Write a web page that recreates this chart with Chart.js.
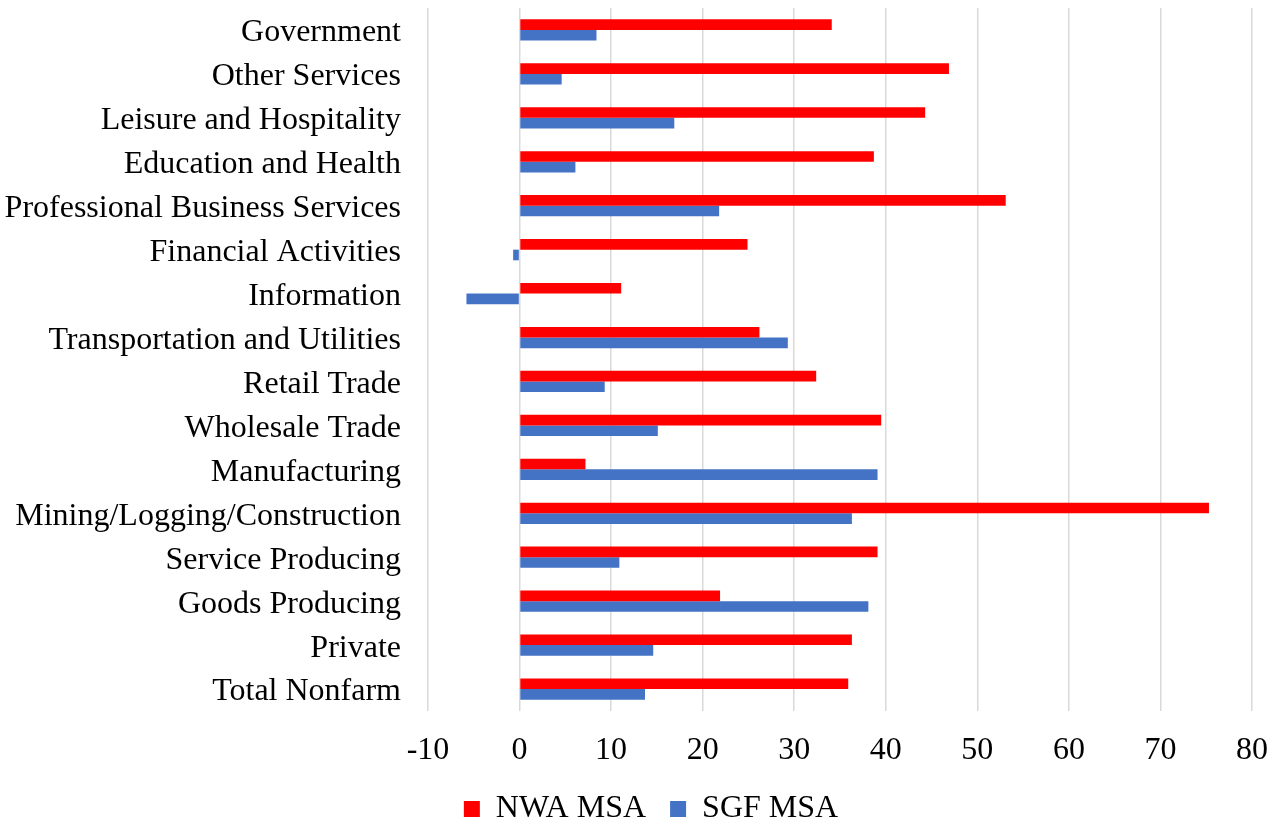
<!DOCTYPE html>
<html>
<head>
<meta charset="utf-8">
<title>Employment growth by sector</title>
<script src="https://cdn.jsdelivr.net/npm/chart.js@4/dist/chart.umd.min.js"></script>
<style>
  html, body { margin: 0; padding: 0; background: #fff; }
  #chart { display: block; }
</style>
</head>
<body>
<canvas id="chart" width="1280" height="822"></canvas>
<script>
// Categories, top to bottom
const sectors = [
  'Government', 'Other Services', 'Leisure and Hospitality', 'Education and Health',
  'Professional Business Services', 'Financial Activities', 'Information',
  'Transportation and Utilities', 'Retail Trade', 'Wholesale Trade', 'Manufacturing',
  'Mining/Logging/Construction', 'Service Producing', 'Goods Producing', 'Private',
  'Total Nonfarm'
];

// Series values
const nwaValues = [34.1, 46.9, 44.3, 38.7, 53.1, 24.9, 11.1, 26.2, 32.4, 39.5, 7.2, 75.3, 39.1, 21.9, 36.3, 35.9];
const sgfValues = [8.4, 4.6, 16.9, 6.1, 21.8, -0.7, -5.8, 29.3, 9.3, 15.1, 39.1, 36.3, 10.9, 38.1, 14.6, 13.7];

const seriesNames = ['NWA MSA', 'SGF MSA'];
const seriesColors = ['#FF0000', '#4472C4'];

// x axis ticks
const xMin = -10;
const xMax = 80;
const xStep = 10;

const FONT = '"Liberation Serif", "Times New Roman", serif';

// keep the legend strip a fixed height so the plot fills down to the axis labels,
// and nudge it a little right like the original
const legendPlace = {
  id: 'legendPlace',
  beforeLayout(chart) {
    const lg = chart.legend;
    if (lg && !lg._fixedFit) {
      const fit = lg.fit.bind(lg);
      lg.fit = function() {
        fit();
        this.height = 53;
      };
      lg._fixedFit = true;
    }
  },
  afterLayout(chart) {
    const lg = chart.legend;
    if (lg) {
      lg.left += 25;
      lg.right += 25;
    }
  }
};

const ctx = document.getElementById('chart');

new Chart(ctx, {
  type: 'bar',
  data: {
    labels: sectors,
    datasets: [
      {
        label: seriesNames[0],
        data: nwaValues,
        backgroundColor: seriesColors[0],
        borderWidth: 0
      },
      {
        label: seriesNames[1],
        data: sgfValues,
        backgroundColor: seriesColors[1],
        borderWidth: 0
      }
    ]
  },
  plugins: [legendPlace],
  options: {
    indexAxis: 'y',
    responsive: false,
    animation: false,
    devicePixelRatio: 1,
    layout: {
      padding: { top: 8, right: 28, bottom: 0, left: 0 }
    },
    datasets: {
      bar: {
        categoryPercentage: 0.485,
        barPercentage: 1.0
      }
    },
    plugins: {
      legend: {
        position: 'bottom',
        labels: {
          color: '#000',
          font: { family: FONT, size: 32 },
          boxWidth: 16,
          boxHeight: 16,
          padding: 24
        }
      },
      tooltip: { enabled: false }
    },
    scales: {
      x: {
        min: xMin,
        max: xMax,
        ticks: {
          stepSize: xStep,
          color: '#000',
          font: { family: FONT, size: 32 },
          padding: 20
        },
        grid: {
          color: '#d9d9d9',
          lineWidth: 1.5,
          drawTicks: false
        },
        border: { display: false },
        afterFit: function(scale) {
          scale.height = 58;
          scale.paddingLeft = 0;
          scale.paddingRight = 0;
        }
      },
      y: {
        ticks: {
          color: '#000',
          font: { family: FONT, size: 32 },
          padding: 0,
          labelOffset: 3,
          autoSkip: false
        },
        grid: { display: false, drawTicks: true, tickLength: 27 },
        border: { display: false },
        afterFit: function(scale) {
          // fixed label column, no extra space above/below the plot
          scale.width = 428;
          scale.paddingTop = 0;
          scale.paddingBottom = 0;
        }
      }
    }
  }
});
</script>
</body>
</html>
